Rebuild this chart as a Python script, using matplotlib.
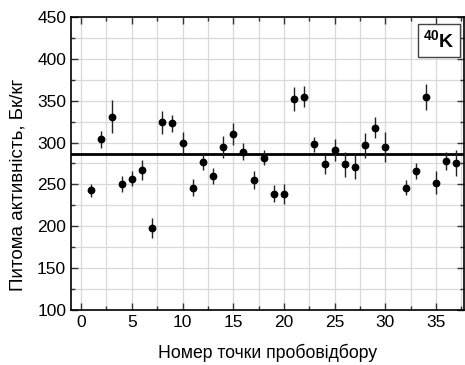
import matplotlib
matplotlib.use("Agg")
import matplotlib.pyplot as plt
from matplotlib.ticker import MultipleLocator

plt.rcParams['font.family'] = ['Liberation Sans', 'DejaVu Sans']
plt.rcParams['mathtext.fontset'] = 'custom'
plt.rcParams['mathtext.rm'] = 'Liberation Sans'
plt.rcParams['mathtext.bf'] = 'Liberation Sans:bold'

points = [1, 2, 3, 4, 5, 6, 7, 8, 9, 10, 11, 12, 13, 14, 15, 16, 17, 18, 19, 20,
          21, 22, 23, 24, 25, 26, 27, 28, 29, 30, 32, 33, 34, 35, 36, 37]
activity = [243, 304, 331, 250, 257, 267, 198, 324, 323, 300, 246, 277, 260, 295, 310, 289,
            255, 282, 239, 239, 352, 355, 298, 274, 291, 274, 271, 297, 318, 295, 246, 266,
            355, 252, 278, 276]
errors = [8, 10, 20, 9.5, 9, 12, 12, 14, 10, 13, 10, 9.5, 10, 13, 13, 10,
          10.5, 9, 10, 12, 14, 13, 9, 11.5, 13, 15, 14.5, 15, 12, 18, 9, 10,
          15.5, 14, 11, 15.5]
mean_value = 286

fig = plt.figure(figsize=(4.65, 3.65), dpi=100)
ax = fig.add_axes([71/465, 1-310/365, 393/465, 293/365])

ax.axhline(mean_value, color='black', lw=2, zorder=3)
ax.errorbar(points, activity, yerr=errors, fmt='o', color='black', ms=4.6,
            elinewidth=1, ecolor='#222222', capsize=0, zorder=4)

ax.set_xlim(-1, 37.75)
ax.set_ylim(100, 450)
ax.xaxis.set_major_locator(MultipleLocator(5))
ax.xaxis.set_minor_locator(MultipleLocator(2.5))
ax.yaxis.set_major_locator(MultipleLocator(50))
ax.yaxis.set_minor_locator(MultipleLocator(25))
ax.grid(True, which='both', color='#d9d9d9', lw=0.9, zorder=0)
ax.set_axisbelow(True)
ax.tick_params(which='both', direction='in', top=True, right=True, labelsize=12.5,
               color='#333333')
ax.tick_params(which='major', length=5, width=1)
ax.tick_params(which='minor', length=3, width=1)
for s in ax.spines.values():
    s.set_linewidth(1.2)

ax.set_xlabel('Номер точки пробовідбору', fontsize=12.7, labelpad=10)
ax.set_ylabel('Питома активність, Бк/кг', fontsize=13.5)
ax.yaxis.set_label_coords(-0.112, 0.427)

ax.text(0.977, 0.958, r'$^{\mathbf{40}}\mathbf{K}$', transform=ax.transAxes, ha='right', va='top',
        fontsize=14,
        bbox=dict(boxstyle='square,pad=0.25', fc='white', ec='#444444', lw=1))

fig.savefig('out.png', dpi=100)
